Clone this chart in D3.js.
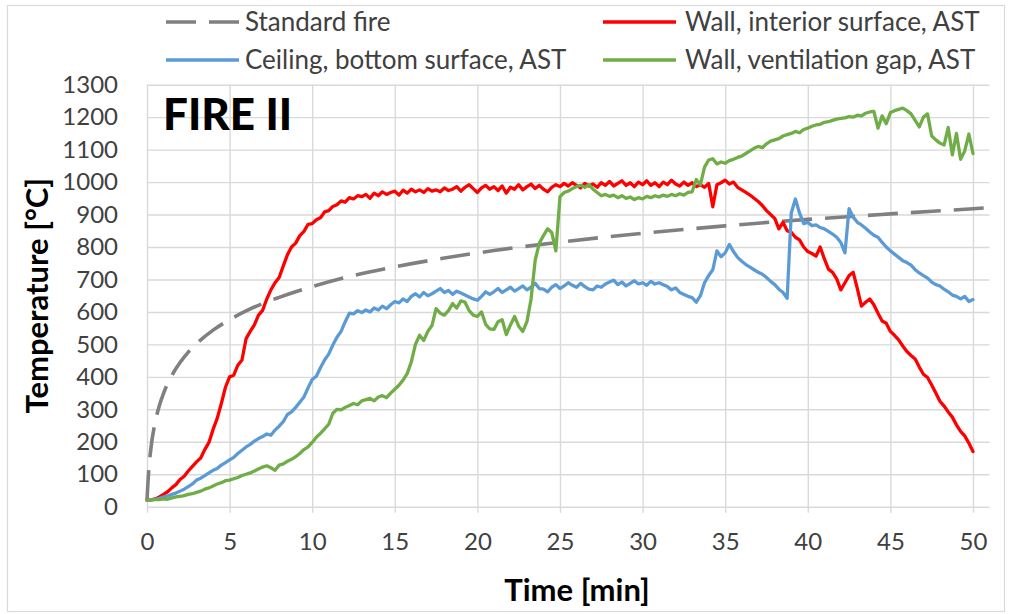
<!DOCTYPE html>
<html>
<head>
<meta charset="utf-8">
<script src="https://cdn.jsdelivr.net/npm/d3@7"></script>
<style>
  html, body { margin: 0; padding: 0; background: #ffffff; }
  svg { display: block; font-family: Lato, "Open Sans", sans-serif; }
</style>
</head>
<body>
<svg id="chart" width="1011" height="614"></svg>
<script>
// Temperature logs of FIRE II, sampled every 0.25 min from 0 to 50 min
const timeMin = d3.range(0, 50.001, 0.25);

// Standard fire curve (ISO 834) read at selected times
const standardTime = [0, 0.1, 0.25, 0.5, 0.75, 1, 1.5, 2, 2.5, 3, 4, 5, 6, 7, 8, 10, 12, 15, 18, 21, 25, 30, 35, 40, 45, 50, 50.9];
const standardTemp = [20, 108, 185, 261, 312, 349, 404, 444, 476, 502, 544, 576, 603, 626, 645, 678, 706, 739, 766, 789, 815, 842, 865, 885, 902, 918, 921];

// Wall, interior surface (AST)
const wallInterior = [
  20, 21, 24, 30, 38, 46, 58, 68, 84, 94, 110, 124,
  138, 150, 176, 198, 238, 272, 318, 368, 400, 405, 436, 452,
  518, 540, 560, 590, 605, 640, 668, 690, 706, 742, 776, 800,
  812, 835, 848, 870, 872, 884, 890, 908, 912, 925, 930, 942,
  938, 952, 948, 958, 955, 962, 950, 966, 958, 970, 962, 968,
  972, 960, 975, 966, 978, 970, 976, 968, 980, 972, 976, 970,
  982, 974, 978, 986, 972, 984, 992, 980, 968, 982, 990, 978,
  986, 974, 988, 966, 984, 978, 992, 976, 986, 994, 980, 990,
  978, 970, 984, 992, 986, 996, 988, 998, 990, 982, 996, 988,
  994, 984, 998, 990, 1002, 988, 996, 1004, 990, 998, 986, 1000,
  992, 1004, 990, 998, 986, 1000, 992, 1006, 994, 988, 1000, 990,
  998, 986, 992, 984, 996, 924, 992, 998, 1006, 994, 1000, 984,
  976, 968, 960, 950, 940, 928, 912, 900, 888, 856, 876, 850,
  845, 830, 822, 800, 786, 780, 772, 800, 764, 732, 722, 702,
  668, 690, 712, 722, 672, 618, 630, 640, 622, 596, 572, 565,
  540, 528, 514, 495, 478, 466, 455, 430, 408, 398, 375, 350,
  325, 310, 292, 276, 252, 232, 218, 196, 170
];

// Ceiling, bottom surface (AST)
const ceilingBottom = [
  20, 21, 23, 26, 30, 33, 38, 42, 48, 54, 62, 70,
  82, 88, 96, 104, 112, 118, 128, 136, 144, 152, 164, 174,
  184, 192, 202, 210, 216, 224, 220, 236, 248, 262, 284, 292,
  306, 322, 338, 366, 392, 402, 428, 452, 470, 498, 522, 540,
  570, 596, 594, 604, 598, 606, 600, 612, 606, 618, 610, 622,
  632, 628, 640, 632, 648, 656, 646, 660, 650, 656, 664, 672,
  660, 666, 654, 664, 658, 652, 646, 640, 636, 648, 662, 654,
  662, 672, 660, 668, 676, 664, 672, 680, 668, 676, 688, 672,
  670, 662, 676, 684, 672, 680, 690, 682, 676, 688, 678, 670,
  668, 680, 676, 686, 692, 698, 684, 692, 680, 688, 696, 686,
  690, 682, 694, 686, 690, 684, 678, 668, 674, 660, 654, 648,
  644, 630, 650, 690, 712, 730, 788, 770, 782, 808, 786, 768,
  756, 746, 738, 730, 722, 716, 706, 694, 684, 670, 660, 642,
  905, 948, 905, 872, 876, 866, 868, 860, 856, 848, 840, 830,
  814, 782, 918, 892, 876, 868, 858, 846, 836, 830, 814, 800,
  788, 778, 768, 758, 752, 744, 730, 720, 712, 704, 692, 684,
  680, 670, 662, 652, 648, 640, 648, 632, 638
];

// Wall, ventilation gap (AST)
const wallVentGap = [
  20, 21, 22, 22, 24, 23, 27, 30, 32, 34, 38, 40,
  44, 48, 54, 58, 64, 70, 74, 80, 82, 86, 90, 96,
  100, 104, 110, 116, 122, 126, 120, 112, 128, 132, 140, 146,
  154, 164, 176, 184, 198, 214, 226, 240, 254, 288, 300, 298,
  306, 312, 318, 314, 326, 330, 334, 326, 338, 342, 336, 350,
  362, 374, 390, 410, 446, 500, 528, 512, 540, 558, 610, 596,
  590, 604, 626, 612, 634, 630, 604, 590, 586, 600, 562, 548,
  546, 570, 576, 530, 560, 586, 556, 540, 570, 640, 760, 812,
  835, 856, 845, 788, 955, 968, 972, 980, 986, 990, 984, 992,
  978, 968, 958, 962, 956, 960, 952, 958, 950, 954, 946, 952,
  948, 956, 952, 958, 954, 960, 956, 962, 958, 964, 960, 968,
  970, 1008, 992, 1046, 1068, 1072, 1056, 1062, 1058, 1066, 1070, 1076,
  1080, 1088, 1096, 1104, 1110, 1106, 1118, 1126, 1130, 1134, 1142, 1146,
  1150, 1156, 1152, 1162, 1166, 1172, 1176, 1178, 1184, 1186, 1190, 1194,
  1196, 1198, 1202, 1200, 1206, 1204, 1212, 1216, 1218, 1166, 1204, 1180,
  1214, 1220, 1224, 1228, 1220, 1210, 1190, 1170, 1200, 1210, 1142, 1130,
  1120, 1114, 1168, 1084, 1150, 1070, 1096, 1148, 1088
];

const xTicks = [0, 5, 10, 15, 20, 25, 30, 35, 40, 45, 50];
const yTicks = [0, 100, 200, 300, 400, 500, 600, 700, 800, 900, 1000, 1100, 1200, 1300];

const seriesNames = ["Standard fire", "Wall, interior surface, AST", "Ceiling, bottom surface, AST", "Wall, ventilation gap, AST"];
const seriesColors = ["#808080", "#ff0000", "#5b9bd5", "#70ad47"];

// ---- layout ----
const svg = d3.select("#chart");
const plot = { left: 147, right: 989.5, top: 84.7, bottom: 506.7 };

svg.append("rect").attr("x", 0).attr("y", 0).attr("width", 1011).attr("height", 614).attr("fill", "#ffffff");
svg.append("rect")
  .attr("x", 7.5).attr("y", 5.5).attr("width", 997).attr("height", 606)
  .attr("fill", "none").attr("stroke", "#d9d9d9").attr("stroke-width", 1.2);

const x = d3.scaleLinear().domain([0, 51]).range([plot.left, plot.right]);
const y = d3.scaleLinear().domain([0, 1300]).range([plot.bottom, plot.top]);

// vertical gridlines + x labels
const xAxis = d3.axisBottom(x)
  .tickValues(xTicks)
  .tickFormat(d3.format("d"))
  .tickSizeInner(plot.bottom - plot.top + 6)
  .tickSizeOuter(0)
  .tickPadding(20);
const gx = svg.append("g").attr("transform", `translate(0,${plot.top})`).call(xAxis);
gx.select(".domain").remove();
gx.selectAll(".tick line").attr("stroke", "#d9d9d9").attr("stroke-width", 1.4);
gx.selectAll(".tick text")
  .attr("fill", "#404040").attr("font-size", 24).attr("font-family", "Lato, sans-serif");

// horizontal gridlines + y labels
const yAxis = d3.axisLeft(y)
  .tickValues(yTicks)
  .tickFormat(d3.format("d"))
  .tickSizeInner(-(plot.right - plot.left))
  .tickSizeOuter(0)
  .tickPadding(29);
const gy = svg.append("g").attr("transform", `translate(${plot.left},0)`).call(yAxis);
gy.select(".domain").remove();
gy.selectAll(".tick line").attr("stroke", "#d9d9d9").attr("stroke-width", 1.4);
gy.selectAll(".tick text")
  .attr("fill", "#404040").attr("font-size", 24).attr("font-family", "Lato, sans-serif");

// ---- series ----
const lineGen = d3.line().x(d => x(d[0])).y(d => y(d[1]));
const smoothGen = d3.line().x(d => x(d[0])).y(d => y(d[1])).curve(d3.curveMonotoneX);

const standardPts = standardTime.map((t, i) => [t, standardTemp[i]]);
const toPts = arr => arr.map((v, i) => [timeMin[i], v]);

svg.append("path").datum(standardPts)
  .attr("d", smoothGen).attr("fill", "none")
  .attr("stroke", seriesColors[0]).attr("stroke-width", 3.6)
  .attr("stroke-dasharray", "30 13");

[wallInterior, ceilingBottom, wallVentGap].forEach((arr, k) => {
  svg.append("path").datum(toPts(arr))
    .attr("d", lineGen).attr("fill", "none")
    .attr("stroke", seriesColors[k + 1]).attr("stroke-width", 3.3)
    .attr("stroke-linejoin", "round").attr("stroke-linecap", "round");
});

// ---- legend ----
const legendCols = [166, 603];
const legendRows = [22, 60];
const legend = svg.append("g").attr("font-family", "Lato, sans-serif").attr("font-size", 26).attr("fill", "#404040");
seriesNames.forEach((name, i) => {
  const cx = legendCols[i % 2], cy = legendRows[Math.floor(i / 2)];
  legend.append("line")
    .attr("x1", cx).attr("x2", cx + 73).attr("y1", cy).attr("y2", cy)
    .attr("stroke", seriesColors[i]).attr("stroke-width", i === 0 ? 3.6 : 3.3)
    .attr("stroke-dasharray", i === 0 ? "30 13" : null);
  legend.append("text")
    .attr("x", cx + (i % 2 === 0 ? 79 : 82)).attr("y", cy).attr("dy", "0.35em")
    .text(name);
});

// ---- titles ----
svg.append("text")
  .attr("x", 163).attr("y", 130)
  .attr("font-family", "Lato, sans-serif").attr("font-weight", 900).attr("font-size", 44)
  .attr("fill", "#000000").text("FIRE II");

svg.append("text")
  .attr("x", 577).attr("y", 601).attr("text-anchor", "middle")
  .attr("font-family", "Lato, sans-serif").attr("font-weight", 700).attr("font-size", 31)
  .attr("fill", "#000000").text("Time [min]");

svg.append("text")
  .attr("transform", `translate(37,${(plot.top + plot.bottom) / 2}) rotate(-90)`)
  .attr("text-anchor", "middle").attr("dy", "0.35em")
  .attr("font-family", "Lato, sans-serif").attr("font-weight", 700).attr("font-size", 31)
  .attr("fill", "#000000").text("Temperature [°C]");
</script>
</body>
</html>
